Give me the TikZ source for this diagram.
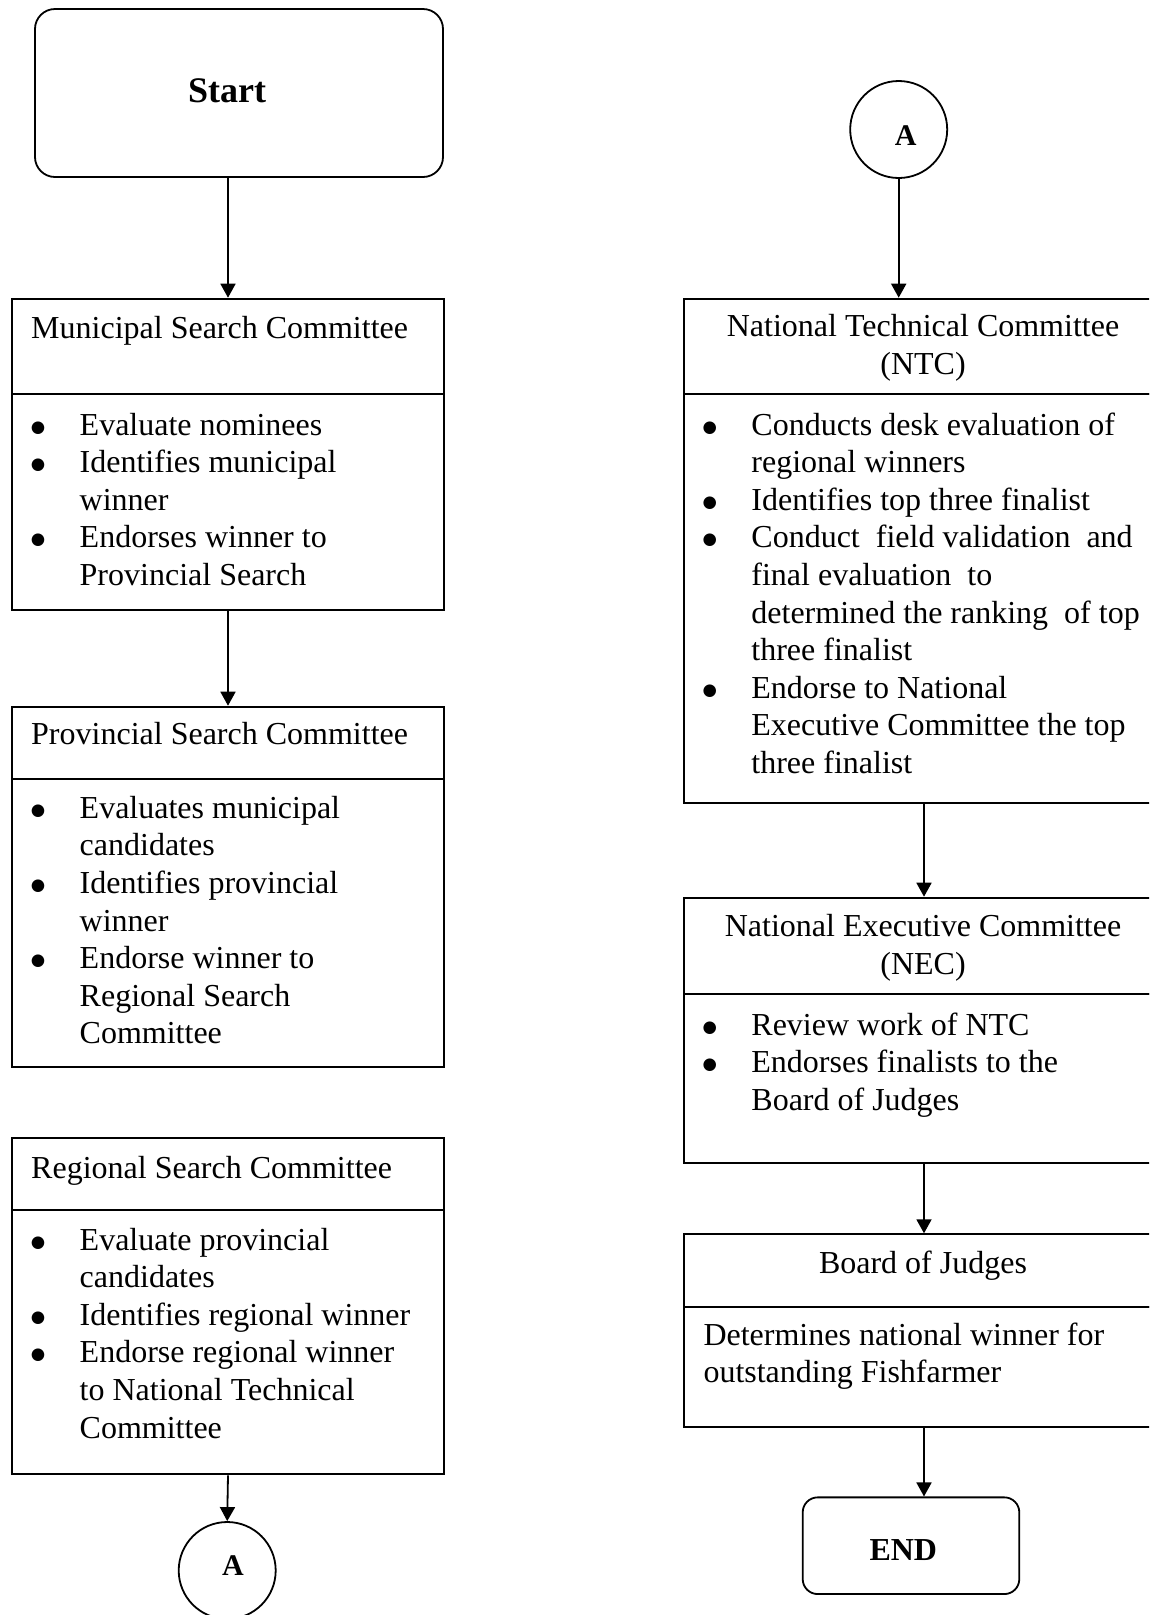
\documentclass[tikz,border=0pt]{standalone}
\usepackage{fontspec}
\setmainfont{Liberation Serif}
\newfontfamily\symfont{DejaVu Sans}
\usetikzlibrary{arrows.meta}

\newcommand{\txtsize}{\fontsize{32}{37.6}\selectfont}
\newcommand{\bu}{\makebox[46.8pt][l]{\hspace*{-2pt}\raisebox{3pt}{\symfont\fontsize{16.5}{16.5}\selectfont\char"25CF}}}

\begin{document}
\begin{tikzpicture}[x=1pt,y=-1pt]
% Flow styles
\tikzset{
  panel/.style={draw, line width=2pt, inner sep=0pt, anchor=north west, minimum width=#1},
  panel/.default=432pt,
  term/.style={draw, line width=1.8pt, rounded corners=#1, inner sep=0pt},
  term/.default=20pt,
  conn/.style={draw, circle, line width=1.8pt, inner sep=0pt, minimum size=97pt},
  txt/.style={inner sep=0pt, font=\txtsize, anchor=base west},
  ctxt/.style={inner sep=0pt, font=\txtsize, anchor=base},
  btxt/.style={inner sep=0pt, font=\fontsize{#1}{#1}\selectfont\bfseries, anchor=base},
  arr/.style={line width=1.8pt, -{Triangle[length=14pt,width=15pt]}}
}
\useasboundingbox (0,0) rectangle (1149,1615);
\clip (0,0) rectangle (1149,1615);

% Left column
\node[term=20pt, minimum width=408pt, minimum height=168pt] (start) at (239,93) {};
\node[btxt=36] (startT) at (227,102) {Start};

\node[panel, minimum height=95.6pt] (munH) at (11,297.7) {};
\node[panel, minimum height=216pt] (munB) at (11,393.3) {};
\node[txt] (munT) at (31,338.3) {Municipal Search Committee};
\node[txt] (munL) at (32.7,435) {\begin{tabular}[t]{@{}l@{}l@{}}
  \bu & Evaluate nominees\\
  \bu & Identifies municipal\\
      & winner\\
  \bu & Endorses winner to\\
      & Provincial Search
\end{tabular}};

\node[panel, minimum height=72pt] (proH) at (11,705.7) {};
\node[panel, minimum height=288pt] (proB) at (11,777.7) {};
\node[txt] (proT) at (31,744.3) {Provincial Search Committee};
\node[txt] (proL) at (32.7,818.3) {\begin{tabular}[t]{@{}l@{}l@{}}
  \bu & Evaluates municipal\\
      & candidates\\
  \bu & Identifies provincial\\
      & winner\\
  \bu & Endorse winner to\\
      & Regional Search\\
      & Committee
\end{tabular}};

\node[panel, minimum height=72pt] (regH) at (11,1137.3) {};
\node[panel, minimum height=264pt] (regB) at (11,1209.3) {};
\node[txt] (regT) at (31,1178.3) {Regional Search Committee};
\node[txt] (regL) at (32.7,1250) {\begin{tabular}[t]{@{}l@{}l@{}}
  \bu & Evaluate provincial\\
      & candidates\\
  \bu & Identifies regional winner\\
  \bu & Endorse regional winner\\
      & to National Technical\\
      & Committee
\end{tabular}};

\node[conn] (conA) at (227.2,1570.5) {};
\node[btxt=30] (conAT) at (233,1575) {A};

% Right column
\node[conn] (conB) at (898.7,129.5) {};
\node[btxt=30] (conBT) at (905.7,145) {A};

\node[panel=480.6pt, minimum height=95.6pt] (ntcH) at (682.7,297.7) {};
\node[panel=480.6pt, minimum height=408.4pt] (ntcB) at (682.7,393.3) {};
\node[ctxt] (ntcT) at (923,336.7) {\begin{tabular}[t]{@{}c@{}}
  National Technical Committee\\ (NTC)
\end{tabular}};
\node[txt] (ntcL) at (704.4,435) {\begin{tabular}[t]{@{}l@{}l@{}}
  \bu & Conducts desk evaluation of\\
      & regional winners\\
  \bu & Identifies top three finalist\\
  \bu & Conduct\ \ field validation\ \ and\\
      & final evaluation\ \ to\\
      & determined the ranking\ \ of top\\
      & three finalist\\
  \bu & Endorse to National\\
      & Executive Committee the top\\
      & three finalist
\end{tabular}};

\node[panel=480.6pt, minimum height=96.6pt] (necH) at (682.7,896.7) {};
\node[panel=480.6pt, minimum height=168.4pt] (necB) at (682.7,993.3) {};
\node[ctxt] (necT) at (923,936.7) {\begin{tabular}[t]{@{}c@{}}
  National Executive Committee\\ (NEC)
\end{tabular}};
\node[txt] (necL) at (704.4,1035) {\begin{tabular}[t]{@{}l@{}l@{}}
  \bu & Review work of NTC\\
  \bu & Endorses finalists to the\\
      & Board of Judges
\end{tabular}};

\node[panel=480.6pt, minimum height=72.4pt] (bojH) at (682.7,1233.3) {};
\node[panel=480.6pt, minimum height=119.8pt] (bojB) at (682.7,1305.7) {};
\node[ctxt] (bojT) at (923,1273.3) {Board of Judges};
\node[txt] (bojL) at (703.3,1345) {\begin{tabular}[t]{@{}l@{}}
  Determines national winner for\\
  outstanding Fishfarmer
\end{tabular}};

\node[term=15pt, minimum width=216.6pt, minimum height=96.7pt] (finish) at (911,1545.7) {};
\node[btxt=32] (finishT) at (903.3,1560.7) {END};

% Connectors
\draw[arr] (start.south -| munH.north) -- (munH.north);
\draw[arr] (munB.south) -- (proH.north);
\draw[arr] (regB.south) -- (conA.north);
\draw[arr] (conB.south) -- (conB.south |- ntcH.north);
\draw[arr] (ntcB.south) -- (necH.north);
\draw[arr] (necB.south) -- (bojH.north);
\draw[arr] (bojB.south) -- (bojB.south |- finish.north);
\end{tikzpicture}
\end{document}
